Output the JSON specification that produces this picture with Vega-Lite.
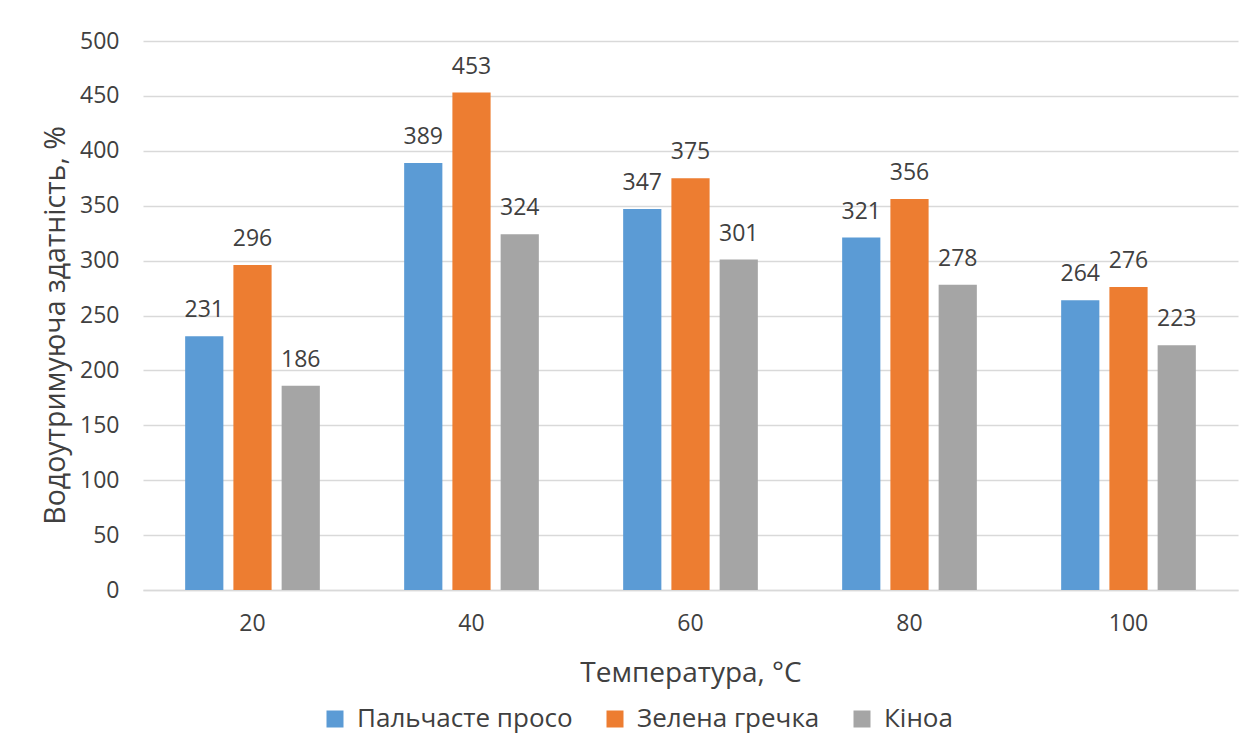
{
  "$schema": "https://vega.github.io/schema/vega-lite/v6.json",
  "autosize": {"type": "none"},
  "width": 1095,
  "height": 549,
  "padding": {"left": 143, "top": 41, "right": 9, "bottom": 166},
  "background": "white",
  "config": {
    "font": "Open Sans",
    "view": {"stroke": null},
    "axis": {
      "labelColor": "#404040",
      "titleColor": "#404040",
      "labelFont": "Open Sans",
      "titleFont": "Open Sans",
      "titleFontWeight": "normal"
    },
    "legend": {"labelColor": "#404040", "labelFont": "Open Sans"}
  },
  "data": {
    "values": [
      {"t": "20", "crop": "Пальчасте просо", "v": 231},
      {"t": "20", "crop": "Зелена гречка", "v": 296},
      {"t": "20", "crop": "Кіноа", "v": 186},
      {"t": "40", "crop": "Пальчасте просо", "v": 389},
      {"t": "40", "crop": "Зелена гречка", "v": 453},
      {"t": "40", "crop": "Кіноа", "v": 324},
      {"t": "60", "crop": "Пальчасте просо", "v": 347},
      {"t": "60", "crop": "Зелена гречка", "v": 375},
      {"t": "60", "crop": "Кіноа", "v": 301},
      {"t": "80", "crop": "Пальчасте просо", "v": 321},
      {"t": "80", "crop": "Зелена гречка", "v": 356},
      {"t": "80", "crop": "Кіноа", "v": 278},
      {"t": "100", "crop": "Пальчасте просо", "v": 264},
      {"t": "100", "crop": "Зелена гречка", "v": 276},
      {"t": "100", "crop": "Кіноа", "v": 223}
    ]
  },
  "encoding": {
    "x": {
      "field": "t",
      "type": "nominal",
      "sort": ["20", "40", "60", "80", "100"],
      "scale": {"paddingInner": 0.385, "paddingOuter": 0.1925},
      "axis": {
        "title": "Температура, °C",
        "titleFontSize": 28,
        "titlePadding": 24,
        "labelFontSize": 23,
        "labelAngle": 0,
        "labelPadding": 22,
        "ticks": false,
        "domainColor": "#D9D9D9",
        "domainWidth": 1.5
      }
    },
    "xOffset": {
      "field": "crop",
      "type": "nominal",
      "sort": ["Пальчасте просо", "Зелена гречка", "Кіноа"],
      "scale": {"paddingInner": 0.208, "paddingOuter": 0}
    }
  },
  "layer": [
    {
      "mark": {"type": "bar"},
      "encoding": {
        "y": {
          "field": "v",
          "type": "quantitative",
          "scale": {"domain": [0, 500], "nice": false},
          "axis": {
            "title": "Водоутримуюча здатність, %",
            "titleFontSize": 28.5,
            "titlePadding": 9,
            "titleY": 284,
            "labelFontSize": 23,
            "labelPadding": 24,
            "values": [0, 50, 100, 150, 200, 250, 300, 350, 400, 450, 500],
            "ticks": false,
            "domain": false,
            "gridColor": "#D9D9D9",
            "gridWidth": 1.5
          }
        },
        "color": {
          "field": "crop",
          "type": "nominal",
          "sort": ["Пальчасте просо", "Зелена гречка", "Кіноа"],
          "scale": {
            "domain": ["Пальчасте просо", "Зелена гречка", "Кіноа"],
            "range": ["#5B9BD5", "#ED7D31", "#A5A5A5"]
          },
          "legend": {
            "title": null,
            "orient": "none",
            "direction": "horizontal",
            "legendX": 179,
            "legendY": 665,
            "symbolType": "square",
            "symbolSize": 289,
            "symbolStrokeWidth": 0,
            "labelFontSize": 26,
            "labelLimit": 400,
            "labelOffset": 9,
            "columnPadding": 29
          }
        }
      }
    },
    {
      "mark": {
        "type": "text",
        "baseline": "bottom",
        "dy": -14,
        "fontSize": 23,
        "color": "#404040",
        "font": "Open Sans"
      },
      "encoding": {
        "y": {"field": "v", "type": "quantitative"},
        "text": {"field": "v", "type": "quantitative"}
      }
    }
  ]
}
